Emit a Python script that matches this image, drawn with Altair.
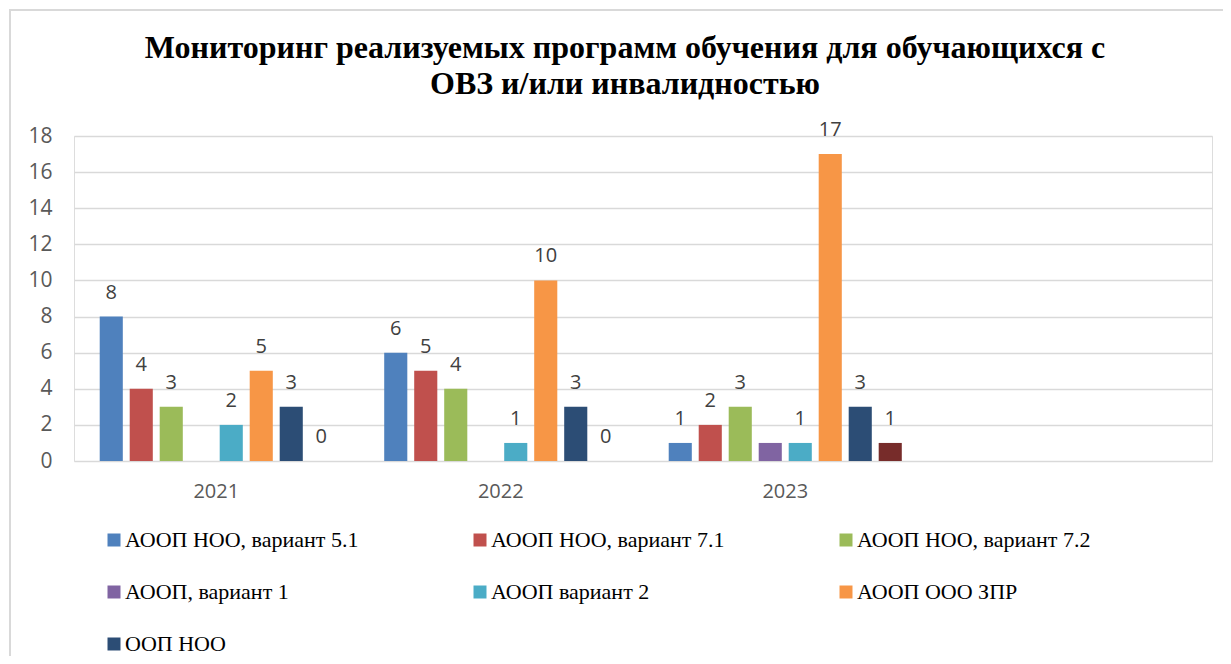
import altair as alt
import pandas as pd

# ---- data ----
years = ["2021", "2022", "2023"]
empty_slot = " "
series = [
    "АООП НОО, вариант 5.1",
    "АООП НОО, вариант 7.1",
    "АООП НОО, вариант 7.2",
    "АООП, вариант 1",
    "АООП вариант 2",
    "АООП ООО ЗПР",
    "ООП НОО",
    "Ряд 8",
]
v_51 = [8, 6, 1]
v_71 = [4, 5, 2]
v_72 = [3, 4, 3]
v_var1 = [None, None, 1]
v_var2 = [2, 1, 1]
v_zpr = [5, 10, 17]
v_oop = [3, 3, 3]
v_s8 = [0, 0, 1]
colors = ["#4F81BD", "#C0504D", "#9BBB59", "#8064A2", "#4BACC6", "#F79646", "#2C4D75", "#772C2A"]
legend_series = series[:7]
unlabeled = ["АООП, вариант 1"]
title_lines = ["Мониторинг реализуемых программ обучения для обучающихся с", "ОВЗ и/или инвалидностью"]

all_vals = [v_51, v_71, v_72, v_var1, v_var2, v_zpr, v_oop, v_s8]
rows = []
for s, vals in zip(series, all_vals):
    for y, v in zip(years, vals):
        rows.append({"year": y, "series": s, "value": v})
df = pd.DataFrame(rows)

x_enc = alt.X(
    "year:N",
    scale=alt.Scale(domain=years + [empty_slot], paddingInner=0, paddingOuter=0),
    axis=alt.Axis(
        title=None, labelAngle=0, ticks=False, domain=False,
        labelFont="Open Sans", labelFontSize=20, labelColor="#595959", labelPadding=20,
    ),
)
xoff_enc = alt.XOffset("series:N", scale=alt.Scale(domain=series, paddingInner=0.23, paddingOuter=0.857))
y_enc = alt.Y(
    "value:Q",
    scale=alt.Scale(domain=[0, 18], nice=False),
    axis=alt.Axis(
        title=None, values=list(range(0, 19, 2)), grid=True, gridColor="#d9d9d9", gridWidth=1.5,
        domain=False, ticks=False, labelPadding=22,
        labelFont="Open Sans", labelFontSize=21, labelColor="#595959",
    ),
)

bars = alt.Chart(df).transform_filter("isValid(datum.value)").mark_bar().encode(
    x=x_enc,
    xOffset=xoff_enc,
    y=y_enc,
    color=alt.Color(
        "series:N",
        scale=alt.Scale(domain=series, range=colors),
        legend=alt.Legend(
            title=None, values=legend_series, orient="none", legendX=29, legendY=393,
            direction="horizontal", columns=3, columnPadding=110, rowPadding=30,
            symbolType="square", symbolSize=169, symbolStrokeWidth=0, labelOffset=0,
            labelFont="Liberation Serif", labelFontSize=22, labelColor="#000000", labelLimit=0,
        ),
    ),
)

labels = alt.Chart(df).transform_filter(
    "isValid(datum.value) && datum.series != '" + unlabeled[0] + "'"
).mark_text(
    dy=-18, baseline="alphabetic", font="Open Sans", fontSize=20, color="#404040"
).encode(x=x_enc, xOffset=xoff_enc, y=y_enc, text="value:Q")

frame = alt.Chart(pd.DataFrame({"k": [0]})).mark_rect(
    filled=False, stroke="#d9d9d9", strokeWidth=2
).encode(x=alt.value(-64), x2=alt.value(1180), y=alt.value(-126), y2=alt.value(600))

chart = alt.layer(frame, bars, labels).properties(
    width=1138,
    height=325,
    title=alt.TitleParams(
        text=title_lines, font="Liberation Serif", fontSize=32, fontWeight="bold", color="#000000",
        anchor="middle", dx=-18, offset=0, dy=92, lineHeight=36,
    ),
    autosize=alt.AutoSizeParams(type="none"),
    padding={"left": 66, "top": 128, "right": 11, "bottom": 195},
).configure_view(stroke=None).configure(background="#ffffff")

chart.save("out.html", embed_options={"renderer": "svg", "actions": False})
